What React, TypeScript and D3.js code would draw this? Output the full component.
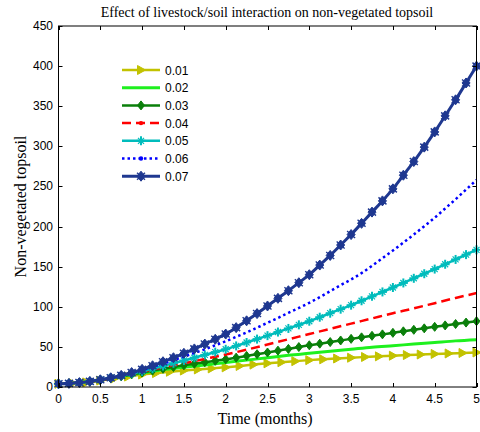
import React from 'react';
import * as d3 from 'd3';

// ---------- data ----------
const T8 = [0, 0.125, 0.25, 0.375, 0.5, 0.625, 0.75, 0.875, 1, 1.125, 1.25, 1.375, 1.5, 1.625, 1.75, 1.875, 2, 2.125, 2.25, 2.375, 2.5, 2.625, 2.75, 2.875, 3, 3.125, 3.25, 3.375, 3.5, 3.625, 3.75, 3.875, 4, 4.125, 4.25, 4.375, 4.5, 4.625, 4.75, 4.875, 5];
const T4 = [0, 0.25, 0.5, 0.75, 1, 1.25, 1.5, 1.75, 2, 2.25, 2.5, 2.75, 3, 3.25, 3.5, 3.75, 4, 4.25, 4.5, 4.75, 5];
const T6 = [0, 0.167, 0.333, 0.5, 0.667, 0.833, 1, 1.167, 1.333, 1.5, 1.667, 1.833, 2, 2.167, 2.333, 2.5, 2.667, 2.833, 3, 3.167, 3.333, 3.5, 3.667, 3.833, 4, 4.167, 4.333, 4.5, 4.667, 4.833, 5];

const v001 = [4, 4.6, 5.7, 8, 10.5, 13, 15.5, 17.3, 19, 20.5, 21.9, 23.2, 24.5, 26.2, 27.9, 29.5, 30.9, 32.2, 33.5, 34.5, 35.5, 36.5, 37.4, 38.2, 39, 39.8, 40.5, 41.2, 41.8, 42.4, 43];
const v002 = [4, 5.5, 8.5, 13, 17.5, 21.5, 24.5, 27.5, 30.5, 33.5, 36.5, 39.5, 42, 44.5, 47, 49.5, 51.5, 53.5, 55.5, 57.5, 59];
const v003 = [4, 4.5, 5.5, 6.8, 8.5, 10.8, 13.3, 15.7, 18, 20.4, 22.7, 24.9, 27, 29, 30.9, 32.7, 34.5, 36.6, 38.7, 40.9, 43, 45.3, 47.5, 49.8, 52, 54, 56, 58, 60, 61.9, 63.8, 65.6, 67.5, 69.4, 71.3, 73.1, 75, 76.8, 78.5, 80.3, 82];
const v004 = [4, 5.5, 8.5, 13.5, 19, 24.5, 29.5, 35, 40.5, 46.5, 53, 59.5, 66, 72.5, 79, 85.5, 92, 98, 104.5, 111, 117];
const v005 = [4, 4.5, 5.5, 7, 9, 11.5, 14, 16.7, 19.5, 22.8, 26.2, 29.6, 33, 36.5, 40, 43.5, 47, 51.2, 55.5, 59.7, 64, 68.5, 73, 77.5, 82, 87, 92, 97, 102, 107.5, 113, 118.5, 124, 129.7, 135.5, 141.2, 147, 153, 159, 165, 171];
const v006 = [4, 4.5, 5.5, 7, 9, 11.5, 14, 17.5, 21, 25, 29, 33.5, 38, 42.5, 47, 52, 57, 62.5, 68, 74, 80, 86, 92.5, 98.5, 105, 112, 119.5, 127, 134, 142, 151, 160.5, 170, 180, 190, 200.5, 211, 222.5, 234, 246, 258];
const v007 = [4, 4.5, 5.5, 7, 9, 11.5, 14.5, 18, 22, 26.5, 31.5, 36.5, 42, 47.5, 53.5, 59.5, 66, 74, 82.5, 91.5, 101, 110.5, 120, 130, 140, 152, 164, 177, 190, 204, 218, 232, 247, 264, 281, 299, 318, 338, 358, 379, 400];

const seriesNames = ['0.01', '0.02', '0.03', '0.04', '0.05', '0.06', '0.07'];
const xTicks = [0, 0.5, 1, 1.5, 2, 2.5, 3, 3.5, 4, 4.5, 5];
const yTicks = [0, 50, 100, 150, 200, 250, 300, 350, 400, 450];

const title = 'Effect of livestock/soil interaction on non-vegetated topsoil';
const xLabel = 'Time (months)';
const yLabel = 'Non-vegetated topsoil';

type Marker = 'tri' | 'none' | 'diamond' | 'dot' | 'plus' | 'star';
const seriesList: { name: string; t: number[]; v: number[]; color: string; width: number; dash?: string; marker: Marker; lineMarkers: boolean }[] = [
  { name: seriesNames[0], t: T6, v: v001, color: '#c2c200', width: 2.5, marker: 'tri', lineMarkers: true },
  { name: seriesNames[1], t: T4, v: v002, color: '#1ef01e', width: 3, marker: 'none', lineMarkers: false },
  { name: seriesNames[2], t: T8, v: v003, color: '#0a7f0a', width: 2.5, marker: 'diamond', lineMarkers: true },
  { name: seriesNames[3], t: T4, v: v004, color: '#ff0000', width: 2.5, dash: '9,5', marker: 'dot', lineMarkers: false },
  { name: seriesNames[4], t: T8, v: v005, color: '#00bcbc', width: 2.5, marker: 'plus', lineMarkers: true },
  { name: seriesNames[5], t: T8, v: v006, color: '#0000ff', width: 2.5, dash: '2.5,3', marker: 'dot', lineMarkers: false },
  { name: seriesNames[6], t: T8, v: v007, color: '#1f3890', width: 3, marker: 'star', lineMarkers: true },
];

const PL = 58.5, PR = 476.5, PT = 26, PB = 387;
const SANS = '"Liberation Sans", Arial, sans-serif';
const SERIF = '"Liberation Serif", "Times New Roman", serif';

function drawMarker(kind: Marker, cx: number, cy: number, color: string, key: string | number) {
  switch (kind) {
    case 'tri':
      return <path key={key} d={`M${cx + 4.5},${cy} L${cx - 3.5},${cy - 4.5} L${cx - 3.5},${cy + 4.5} Z`} fill={color} stroke={color} strokeWidth={1} />;
    case 'diamond':
      return <path key={key} d={`M${cx},${cy - 4.5} L${cx + 3.5},${cy} L${cx},${cy + 4.5} L${cx - 3.5},${cy} Z`} fill={color} stroke={color} strokeWidth={1} />;
    case 'dot':
      return <circle key={key} cx={cx} cy={cy} r={2.2} fill={color} />;
    case 'plus':
      return (
        <g key={key} stroke={color} strokeWidth={2}>
          <line x1={cx - 4.5} y1={cy} x2={cx + 4.5} y2={cy} />
          <line x1={cx} y1={cy - 4.5} x2={cx} y2={cy + 4.5} />
          <line x1={cx - 3} y1={cy - 3} x2={cx + 3} y2={cy + 3} strokeWidth={1.2} />
          <line x1={cx - 3} y1={cy + 3} x2={cx + 3} y2={cy - 3} strokeWidth={1.2} />
        </g>
      );
    case 'star':
      return (
        <g key={key}>
          <path d={`M${cx},${cy - 5} L${cx + 4},${cy} L${cx},${cy + 5} L${cx - 4},${cy} Z`} fill={color} stroke={color} strokeWidth={1} />
          <g stroke={color} strokeWidth={1.4}>
            <line x1={cx - 4} y1={cy - 3.5} x2={cx + 4} y2={cy + 3.5} />
            <line x1={cx - 4} y1={cy + 3.5} x2={cx + 4} y2={cy - 3.5} />
          </g>
        </g>
      );
    default:
      return null;
  }
}

export default function App() {
  const x = d3.scaleLinear().domain([0, 5]).range([PL, PR]);
  const y = d3.scaleLinear().domain([0, 450]).range([PB, PT]);

  const legendX0 = 122, legendX1 = 160, legendY0 = 70, legendStep = 17.7;

  return (
    <svg width={480} height={432} style={{ position: 'absolute', left: 0, top: 0, background: '#fff' }}>
      <rect x={0} y={0} width={480} height={432} fill="#fff" />
      {/* series */}
      {seriesList.map((s, i) => {
        const pts: [number, number][] = s.t.map((t, j) => [t, s.v[j]]);
        const line = d3.line<[number, number]>().x(d => x(d[0])).y(d => y(d[1])).curve(d3.curveMonotoneX);
        return (
          <g key={i}>
            <path d={line(pts) || ''} fill="none" stroke={s.color} strokeWidth={s.width} strokeDasharray={s.dash} strokeLinejoin="round" />
            {s.lineMarkers && pts.map((p, j) => drawMarker(s.marker, x(p[0]), y(p[1]), s.color, j))}
          </g>
        );
      })}
      {/* axes box */}
      <rect x={PL} y={PT} width={PR - PL} height={PB - PT} fill="none" stroke="#000" strokeWidth={1} />
      {xTicks.map((t, i) => (
        <g key={'xt' + i}>
          <line x1={Math.round(x(t)) + 0.5} x2={Math.round(x(t)) + 0.5} y1={PB} y2={PB - 4} stroke="#000" />
          <line x1={Math.round(x(t)) + 0.5} x2={Math.round(x(t)) + 0.5} y1={PT} y2={PT + 4} stroke="#000" />
          <text x={x(t)} y={403} textAnchor="middle" fontFamily={SANS} fontSize={12} fill="#000">{String(t)}</text>
        </g>
      ))}
      {yTicks.map((v, i) => (
        <g key={'yt' + i}>
          <line x1={PL} x2={PL + 4} y1={Math.round(y(v)) + 0.5} y2={Math.round(y(v)) + 0.5} stroke="#000" />
          <line x1={PR} x2={PR - 4} y1={Math.round(y(v)) + 0.5} y2={Math.round(y(v)) + 0.5} stroke="#000" />
          <text x={53} y={y(v) + 4} textAnchor="end" fontFamily={SANS} fontSize={12} fill="#000">{String(v)}</text>
        </g>
      ))}
      {/* title and labels */}
      <text x={267} y={17} textAnchor="middle" fontFamily={SERIF} fontSize={14} fill="#000">{title}</text>
      <text x={265} y={424} textAnchor="middle" fontFamily={SERIF} fontSize={16} fill="#000">{xLabel}</text>
      <text transform={`translate(26,${(PT + PB) / 2}) rotate(-90)`} textAnchor="middle" fontFamily={SERIF} fontSize={16} fill="#000">{yLabel}</text>
      {/* legend */}
      {seriesList.map((s, i) => {
        const ly = legendY0 + i * legendStep;
        return (
          <g key={'lg' + i}>
            <line x1={legendX0} x2={legendX1} y1={ly} y2={ly} stroke={s.color} strokeWidth={s.width} strokeDasharray={s.dash} />
            {drawMarker(s.marker, (legendX0 + legendX1) / 2, ly, s.color, 'm')}
            <text x={165} y={ly + 4.5} fontFamily={SANS} fontSize={12} fill="#000">{s.name}</text>
          </g>
        );
      })}
    </svg>
  );
}
